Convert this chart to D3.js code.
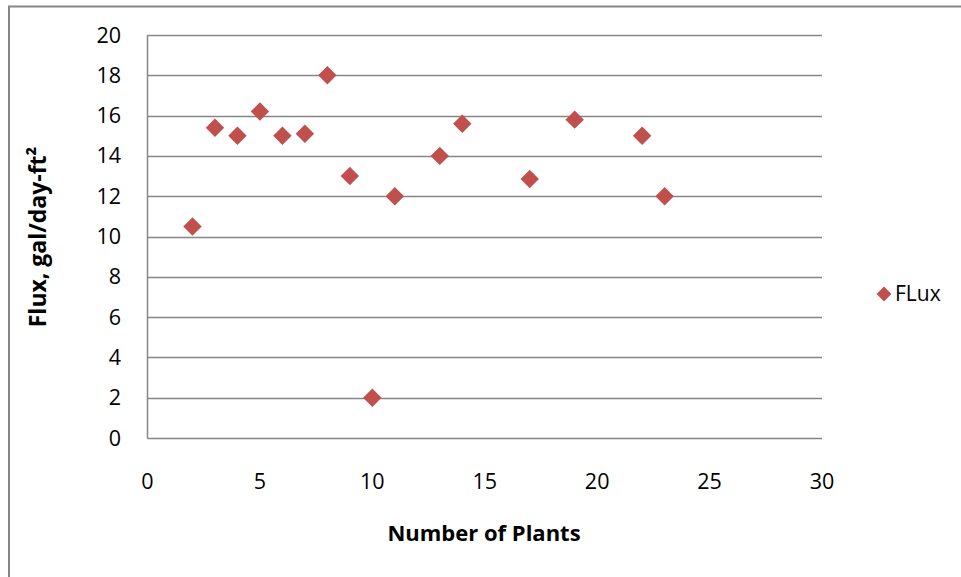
<!DOCTYPE html>
<html>
<head>
<meta charset="utf-8">
<script src="https://cdn.jsdelivr.net/npm/d3@7"></script>
<style>
  body { margin: 0; background: #fff; }
  svg { display: block; font-family: "Open Sans", sans-serif; }
</style>
</head>
<body>
<svg></svg>
<script>
const WIDTH = 961;
const HEIGHT = 577;

// number of plants vs flux
const plants = [2, 3, 4, 5, 6, 7, 8, 9, 10, 11, 13, 14, 17, 19, 22, 23];
const flux = [10.5, 15.4, 15, 16.2, 15, 15.1, 18, 13, 2, 12, 14, 15.6, 12.85, 15.8, 15, 12];
const xTicks = [0, 5, 10, 15, 20, 25, 30];
const yTicks = [0, 2, 4, 6, 8, 10, 12, 14, 16, 18, 20];
const seriesName = 'FLux';

const MARKER = '#C0504D';
const GRID = '#868686';

window.onload = () => {
  const svg = d3.select('svg')
      .attr('width', WIDTH)
      .attr('height', HEIGHT);

  // chart frame, runs off the right and bottom edges
  svg.append('rect')
      .attr('x', 9)
      .attr('y', 6.5)
      .attr('width', 1000)
      .attr('height', 700)
      .attr('fill', 'none')
      .attr('stroke', '#868686')
      .attr('stroke-width', 2);

  const x = d3.scaleLinear().domain([0, 30]).range([147.5, 822]);
  const y = d3.scaleLinear().domain([0, 20]).range([438, 35]);

  // horizontal gridlines
  svg.append('g')
    .selectAll('line')
    .data(yTicks.filter((d) => d > 0))
    .join('line')
      .attr('x1', x(0))
      .attr('x2', x(30))
      .attr('y1', (d) => Math.round(y(d)) + 0.5)
      .attr('y2', (d) => Math.round(y(d)) + 0.5)
      .attr('stroke', GRID)
      .attr('stroke-width', 1.5);

  // axes lines
  svg.append('line')
      .attr('x1', x(0)).attr('x2', x(0))
      .attr('y1', y(20)).attr('y2', y(0) + 0.5)
      .attr('stroke', GRID).attr('stroke-width', 1.5);
  svg.append('line')
      .attr('x1', x(0)).attr('x2', x(30))
      .attr('y1', Math.round(y(0)) + 0.5).attr('y2', Math.round(y(0)) + 0.5)
      .attr('stroke', GRID).attr('stroke-width', 1.5);

  // tick labels
  svg.append('g')
    .selectAll('text')
    .data(yTicks)
    .join('text')
      .attr('x', 121)
      .attr('y', (d) => y(d))
      .attr('dy', '0.35em')
      .attr('text-anchor', 'end')
      .attr('font-size', 21.5)
      .text((d) => d);

  svg.append('g')
    .selectAll('text')
    .data(xTicks)
    .join('text')
      .attr('x', (d) => x(d))
      .attr('y', 481)
      .attr('dy', '0.35em')
      .attr('text-anchor', 'middle')
      .attr('font-size', 21.5)
      .text((d) => d);

  // axis titles
  svg.append('text')
      .attr('x', 484)
      .attr('y', 533)
      .attr('dy', '0.35em')
      .attr('text-anchor', 'middle')
      .attr('font-size', 22)
      .attr('font-weight', 'bold')
      .text('Number of Plants');

  svg.append('text')
      .attr('transform', 'translate(38, 237) rotate(-90)')
      .attr('dy', '0.35em')
      .attr('text-anchor', 'middle')
      .attr('font-size', 23)
      .attr('font-weight', 'bold')
      .text('Flux, gal/day-ft²');

  // diamonds
  const diamond = d3.symbol().type(d3.symbolSquare).size(170);
  svg.append('g')
    .selectAll('path')
    .data(plants.map((p, i) => [p, flux[i]]))
    .join('path')
      .attr('d', diamond)
      .attr('transform', (d) => `translate(${x(d[0])}, ${y(d[1])}) rotate(45)`)
      .attr('fill', MARKER);

  // legend
  const legend = svg.append('g').attr('transform', 'translate(884, 294)');
  legend.append('path')
      .attr('d', d3.symbol().type(d3.symbolSquare).size(110))
      .attr('transform', 'rotate(45)')
      .attr('fill', MARKER);
  legend.append('text')
      .attr('x', 11)
      .attr('dy', '0.35em')
      .attr('font-size', 21)
      .text(seriesName);
};
</script>
</body>
</html>
